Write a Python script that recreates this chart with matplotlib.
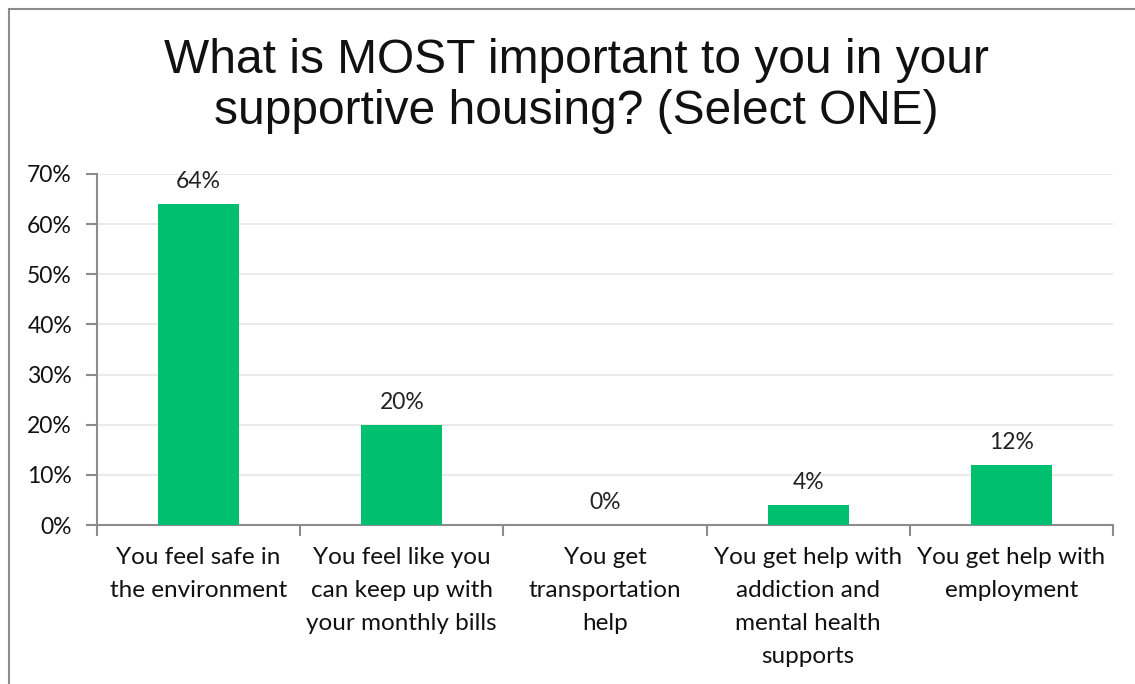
import matplotlib
matplotlib.use("Agg")
import matplotlib.pyplot as plt
from matplotlib.ticker import PercentFormatter, MultipleLocator
from matplotlib.patches import Rectangle

categories = [
    "You feel safe in\nthe environment",
    "You feel like you\ncan keep up with\nyour monthly bills",
    "You get\ntransportation\nhelp",
    "You get help with\naddiction and\nmental health\nsupports",
    "You get help with\nemployment",
]
values = [64, 20, 0, 4, 12]
labels = ["64%", "20%", "0%", "4%", "12%"]
title = "What is MOST important to you in your\nsupportive housing? (Select ONE)"

W, H = 1135, 684
fig = plt.figure(figsize=(W / 100, H / 100), dpi=100)
fig.patch.set_facecolor("white")

# outer border
fig.add_artist(Rectangle((9 / W, -0.01), 1.2, (H - 9) / H + 0.01, transform=fig.transFigure,
                         fill=False, edgecolor="#8c8c8c", linewidth=1.5))

left, right = 97 / W, 1113 / W
bottom, top = 1 - 525 / H, 1 - 174 / H
ax = fig.add_axes([left, bottom, right - left, top - bottom])

x = list(range(len(categories)))
ax.bar(x, values, width=0.4, color="#00BF6F", zorder=3)
for xi, v, lab in zip(x, values, labels):
    ax.text(xi, v + 2.4, lab, ha="center", va="bottom", fontsize=16.5, family="Lato", color="#222222")

ax.set_xlim(-0.5, len(categories) - 0.5)
ax.set_ylim(0, 70)
ax.yaxis.set_major_locator(MultipleLocator(10))
ax.yaxis.set_major_formatter(PercentFormatter(decimals=0))
ax.grid(axis="y", color="#e6e6e6", linewidth=1.2, zorder=0)

for s in ["top", "right"]:
    ax.spines[s].set_visible(False)
for s in ["left", "bottom"]:
    ax.spines[s].set_color("#8c8c8c")
    ax.spines[s].set_linewidth(1.5)

ax.set_xticks([i - 0.5 for i in range(len(categories) + 1)])
ax.set_xticklabels([])
ax.set_xticks(x, minor=True)
ax.set_xticklabels(categories, minor=True, fontsize=17.5, family="Lato", color="#111111", linespacing=1.7, va="top")
ax.tick_params(axis="x", which="major", length=8, width=1.5, color="#8c8c8c", direction="out")
ax.tick_params(axis="x", which="minor", length=0, pad=16)
ax.tick_params(axis="y", length=8, width=1.5, color="#8c8c8c", direction="out", pad=10)
for t in ax.get_yticklabels():
    t.set_fontsize(16.5)
    t.set_family("Lato")
    t.set_color("#111111")

fig.text(0.5 + 9 / W, 1 - 86 / H, title, ha="center", va="center", fontsize=34.5,
         family="Liberation Sans", color="#111111", linespacing=1.15)

fig.savefig("out.png", dpi=100)
